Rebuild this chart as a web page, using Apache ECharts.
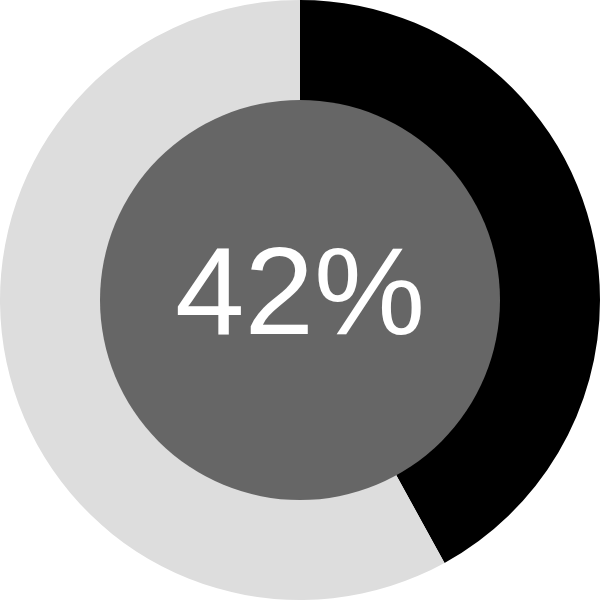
<!DOCTYPE html>
<html><head><meta charset="utf-8">
<script src="https://cdn.jsdelivr.net/npm/echarts@6/dist/echarts.min.js"></script>
<style>html,body{margin:0;padding:0;background:#fff}#c{width:600px;height:600px}</style>
</head><body><div id="c"></div>
<script>
var categories = ['Done', 'Remaining'];
var values = [42, 58];
var percentLabel = '42%';
var chart = echarts.init(document.getElementById('c'), null, {renderer: 'canvas'});
chart.setOption({
  animation: false,
  series: [
    {
      type: 'pie',
      radius: [199, 300],
      center: ['50%', '50%'],
      startAngle: 90,
      clockwise: true,
      silent: true,
      label: {show: false},
      labelLine: {show: false},
      itemStyle: {borderWidth: 0},
      data: categories.map(function (c, i) {
        return {name: c, value: values[i], itemStyle: {color: i === 0 ? '#000000' : '#dddddd'}};
      })
    },
    {
      type: 'pie',
      radius: [0, 200],
      center: ['50%', '50%'],
      silent: true,
      labelLine: {show: false},
      label: {
        show: true,
        position: 'center',
        formatter: percentLabel,
        color: '#ffffff',
        fontFamily: 'Liberation Sans, Arial, sans-serif',
        fontSize: 125,
        fontWeight: 'normal',
        padding: [4, 0, 0, 0]
      },
      itemStyle: {color: '#666666', borderWidth: 0},
      data: [{name: 'center', value: 1}]
    }
  ]
});
</script></body></html>
